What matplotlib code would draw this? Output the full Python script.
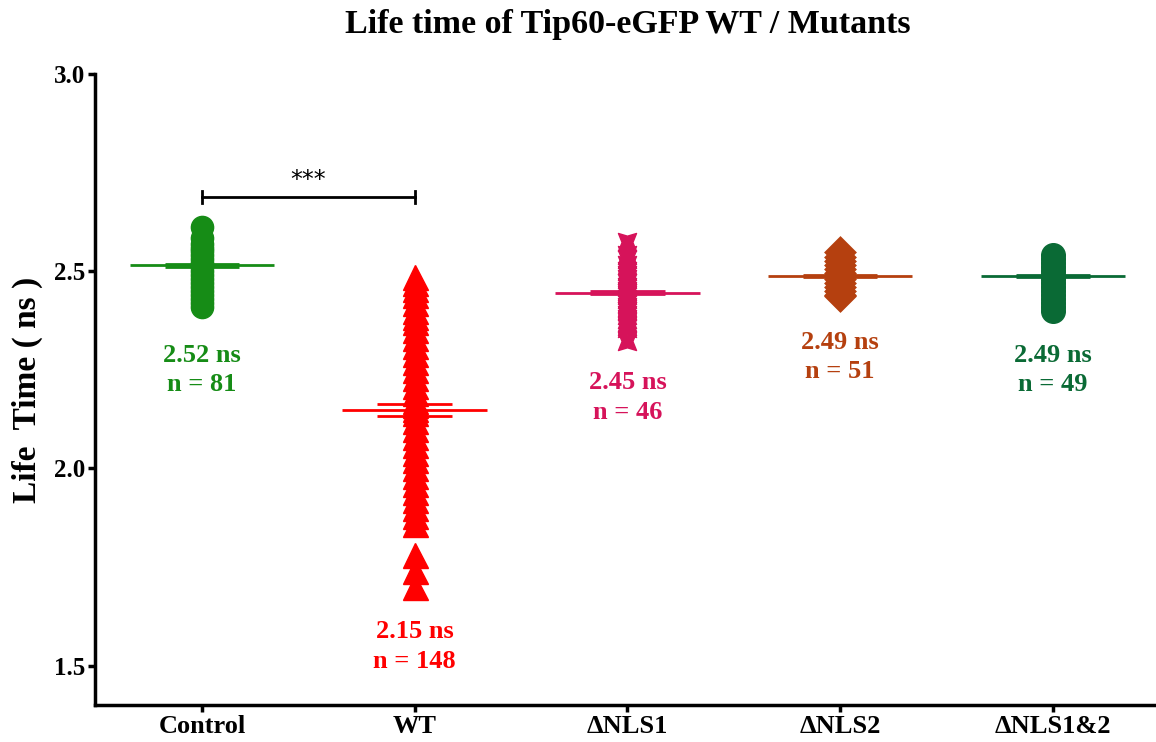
import numpy as np
import matplotlib
matplotlib.use('Agg')
import matplotlib.pyplot as plt
from matplotlib.path import Path

plt.rcParams['font.family'] = ['Liberation Serif', 'DejaVu Serif']
plt.rcParams['font.weight'] = 'bold'

# data
groups = ['Control', 'WT', '\u0394NLS1', '\u0394NLS2', '\u0394NLS1&2']
colors = ['#168C16', '#FF0000', '#D6135A', '#B5400F', '#0A6A35']
means = [2.515, 2.148, 2.445, 2.488, 2.488]
sems = [0.004, 0.016, 0.004, 0.003, 0.003]
n_cells = [81, 148, 46, 51, 49]
mean_labels = ['2.52 ns', '2.15 ns', '2.45 ns', '2.49 ns', '2.49 ns']

control = [2.612, 2.585, 2.57, 2.56, 2.55, 2.54, 2.53, 2.52, 2.515, 2.51, 2.50,
           2.49, 2.48, 2.47, 2.46, 2.45, 2.44, 2.43, 2.42, 2.41]
wt = [2.485, 2.47, 2.455, 2.44, 2.42, 2.40, 2.385, 2.37, 2.35, 2.33, 2.31, 2.29,
      2.27, 2.25, 2.23, 2.21, 2.19, 2.17, 2.16, 2.15, 2.14, 2.12, 2.10, 2.08,
      2.06, 2.04, 2.02, 2.00, 1.98, 1.96, 1.94, 1.92, 1.90, 1.88, 1.86,
      1.78, 1.74, 1.70]
nls1 = [2.574, 2.54, 2.53, 2.515, 2.50, 2.49, 2.48, 2.47, 2.46, 2.45, 2.445,
        2.44, 2.43, 2.42, 2.41, 2.40, 2.39, 2.38, 2.37, 2.36, 2.355, 2.322]
nls2 = [2.548, 2.536, 2.526, 2.516, 2.506, 2.496, 2.488, 2.48, 2.47, 2.46,
        2.45, 2.44, 2.437]
nls12 = [2.54, 2.53, 2.52, 2.51, 2.50, 2.49, 2.48, 2.47, 2.46, 2.45, 2.44, 2.43,
         2.42, 2.41, 2.398]
values = [control, wt, nls1, nls2, nls12]

# concave square marker for dNLS1
star4 = Path([(-1, 1), (0, 0.7), (1, 1), (0.6, 0), (1, -1), (0, -0.7),
              (-1, -1), (-0.6, 0), (-1, 1)],
             [Path.MOVETO] + [Path.LINETO] * 7 + [Path.CLOSEPOLY])

styles = [
    dict(marker='o', ms=16),
    dict(marker='^', ms=18),
    dict(marker=star4, ms=13),
    dict(marker='D', ms=13, mfc='none', mew=3.5),
    dict(marker='o', ms=17),
]

fig = plt.figure(figsize=(11.56, 7.42), dpi=100)
ax = fig.add_axes([95 / 1156, 1 - 705 / 742, (1156 - 95) / 1156, (705 - 74) / 742])

for i, vals in enumerate(values):
    c = colors[i]
    kw = dict(linestyle='none', color=c, mec=c)
    kw.update(styles[i])
    ax.plot([i] * len(vals), vals, **kw)
    # mean and SEM lines
    ax.hlines(means[i], i - 0.34, i + 0.34, color=c, lw=2)
    ax.hlines([means[i] - sems[i], means[i] + sems[i]], i - 0.175, i + 0.175,
              color=c, lw=2)

# mean / n labels
label_y = [2.249, 1.548, 2.180, 2.282, 2.249]
for i in range(len(groups)):
    ax.text(i, label_y[i], '%s\nn = %d' % (mean_labels[i], n_cells[i]),
            color=colors[i], fontsize=19, fontweight='bold', ha='center',
            va='center', linespacing=1.35)

# significance bar
ax.plot([0, 1], [2.688, 2.688], color='black', lw=2)
ax.plot([0, 0], [2.672, 2.704], color='black', lw=2)
ax.plot([1, 1], [2.672, 2.704], color='black', lw=2)
ax.text(0.5, 2.70, '***', ha='center', va='bottom', fontsize=17,
        family='DejaVu Sans', fontweight='normal')

ax.set_xlim(-0.503, 4.485)
ax.set_ylim(1.4, 3.0)
ax.set_yticks([1.5, 2.0, 2.5, 3.0])
ax.set_yticklabels(['1.5', '2.0', '2.5', '3.0'], fontsize=18, fontweight='bold')
ax.set_xticks(range(len(groups)))
ax.set_xticklabels(groups, fontsize=19, fontweight='bold')
ax.tick_params(axis='both', width=2.5, length=5, pad=2)
for s in ['top', 'right']:
    ax.spines[s].set_visible(False)
for s in ['left', 'bottom']:
    ax.spines[s].set_linewidth(2.5)

ax.set_ylabel('Life  Time ( ns )', fontsize=24, fontweight='bold', labelpad=8)
fig.text(628 / 1156, 1 - 25 / 742, 'Life time of Tip60-eGFP WT / Mutants',
         ha='center', va='center', fontsize=24.5, fontweight='bold')

fig.savefig('out.png', dpi=100)
